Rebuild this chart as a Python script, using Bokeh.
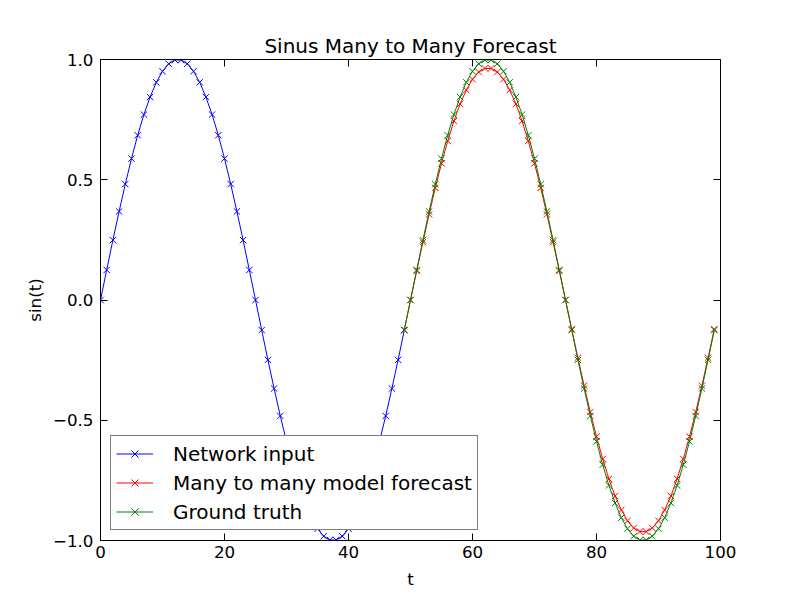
from bokeh.plotting import figure
from bokeh.models import Range1d, LinearAxis, FixedTicker, Legend, LegendItem, CustomJSTickFormatter
from bokeh.embed import file_html
from bokeh.resources import INLINE

# ---- data ----
t_input = list(range(0, 50))
y_input = [0.000, 0.125, 0.249, 0.368, 0.482, 0.588, 0.685, 0.771, 0.844, 0.905,
           0.951, 0.982, 0.998, 0.998, 0.982, 0.951, 0.905, 0.844, 0.771, 0.685,
           0.588, 0.482, 0.368, 0.249, 0.125, 0.000, -0.125, -0.249, -0.368, -0.482,
           -0.588, -0.685, -0.771, -0.844, -0.905, -0.951, -0.982, -0.998, -0.998, -0.982,
           -0.951, -0.905, -0.844, -0.771, -0.685, -0.588, -0.482, -0.368, -0.249, -0.125]

t_out = list(range(49, 100))
y_forecast = [-0.125, 0.000, 0.121, 0.240, 0.356, 0.466, 0.568, 0.661, 0.744, 0.815,
              0.873, 0.918, 0.948, 0.963, 0.963, 0.948, 0.918, 0.873, 0.815, 0.744,
              0.661, 0.568, 0.466, 0.356, 0.240, 0.121, 0.000, -0.121, -0.240, -0.356,
              -0.466, -0.568, -0.661, -0.744, -0.815, -0.873, -0.918, -0.948, -0.963, -0.963,
              -0.948, -0.918, -0.873, -0.815, -0.744, -0.661, -0.568, -0.466, -0.356, -0.240,
              -0.121]
y_truth = [-0.125, 0.000, 0.125, 0.249, 0.368, 0.482, 0.588, 0.685, 0.771, 0.844,
           0.905, 0.951, 0.982, 0.998, 0.998, 0.982, 0.951, 0.905, 0.844, 0.771,
           0.685, 0.588, 0.482, 0.368, 0.249, 0.125, 0.000, -0.125, -0.249, -0.368,
           -0.482, -0.588, -0.685, -0.771, -0.844, -0.905, -0.951, -0.982, -0.998, -0.998,
           -0.982, -0.951, -0.905, -0.844, -0.771, -0.685, -0.588, -0.482, -0.368, -0.249,
           -0.125]

x_ticks = [0, 20, 40, 60, 80, 100]
y_ticks = [-1.0, -0.5, 0.0, 0.5, 1.0]
y_tick_labels = ["\u22121.0", "\u22120.5", "0.0", "0.5", "1.0"]
series_names = ["Network input", "Many to many model forecast", "Ground truth"]
series_colors = ["#0000ff", "#ff0000", "#008000"]

FONT = "DejaVu Sans"

p = figure(frame_width=620, frame_height=481, output_backend="svg",
           toolbar_location=None, x_range=Range1d(0, 100), y_range=Range1d(-1, 1),
           min_border_left=100, min_border_top=59, min_border_right=70, min_border_bottom=58,
           title="Sinus Many to Many Forecast")
p.title.align = "center"
p.title.text_font = FONT
p.title.text_font_size = "20px"
p.title.text_font_style = "normal"
p.title.text_color = "black"
p.title.standoff = 4

p.xgrid.visible = False
p.ygrid.visible = False
p.outline_line_color = "black"
p.outline_line_width = 1
p.background_fill_color = "white"
p.border_fill_color = "white"

def style_axis(ax, ticks, show_labels):
    ax.ticker = FixedTicker(ticks=ticks)
    ax.major_tick_in = 7
    ax.major_tick_out = 0
    ax.minor_tick_in = 0
    ax.minor_tick_out = 0
    ax.axis_line_color = "black"
    ax.major_tick_line_color = "black"
    ax.major_label_text_font = FONT
    ax.major_label_text_color = "black"
    ax.axis_label_text_font = FONT
    ax.axis_label_text_color = "black"
    ax.axis_label_text_font_style = "normal"
    ax.axis_label_text_font_size = "16.7px"
    ax.major_label_text_font_size = "16.7px"
    if not show_labels:
        ax.formatter = CustomJSTickFormatter(code="return '';")
        ax.major_label_standoff = 0

xa = p.xaxis[0]
ya = p.yaxis[0]
style_axis(xa, x_ticks, True)
style_axis(ya, y_ticks, True)
xa.axis_label = "t"
ya.axis_label = "sin(t)"
xa.major_label_standoff = 5
ya.major_label_standoff = 7
xa.axis_label_standoff = 8
ya.major_label_overrides = {v: s for v, s in zip(y_ticks, y_tick_labels)}

top = LinearAxis()
right = LinearAxis()
style_axis(top, x_ticks, False)
style_axis(right, y_ticks, False)
p.add_layout(top, "above")
p.add_layout(right, "right")

r1 = p.line(t_input, y_input, line_color=series_colors[0], line_width=1)
m1 = p.scatter(t_input, y_input, marker="x", size=9, line_color=series_colors[0], line_width=1)
r2 = p.line(t_out, y_forecast, line_color=series_colors[1], line_width=1)
m2 = p.scatter(t_out, y_forecast, marker="x", size=9, line_color=series_colors[1], line_width=1)
r3 = p.line(t_out, y_truth, line_color=series_colors[2], line_width=1)
m3 = p.scatter(t_out, y_truth, marker="x", size=9, line_color=series_colors[2], line_width=1)

legend = Legend(items=[LegendItem(label=series_names[0], renderers=[r1, m1]),
                       LegendItem(label=series_names[1], renderers=[r2, m2]),
                       LegendItem(label=series_names[2], renderers=[r3, m3])],
                location="bottom_left")
legend.label_text_font = FONT
legend.label_text_font_size = "20px"
legend.label_text_color = "black"
legend.border_line_color = "black"
legend.border_line_width = 1
legend.background_fill_alpha = 1
legend.glyph_width = 37
legend.glyph_height = 25
legend.label_height = 25
legend.label_standoff = 20
legend.spacing = 4
legend.padding = 5
legend.margin = 10
p.add_layout(legend)

open("out.html", "w").write(file_html(p, INLINE))
